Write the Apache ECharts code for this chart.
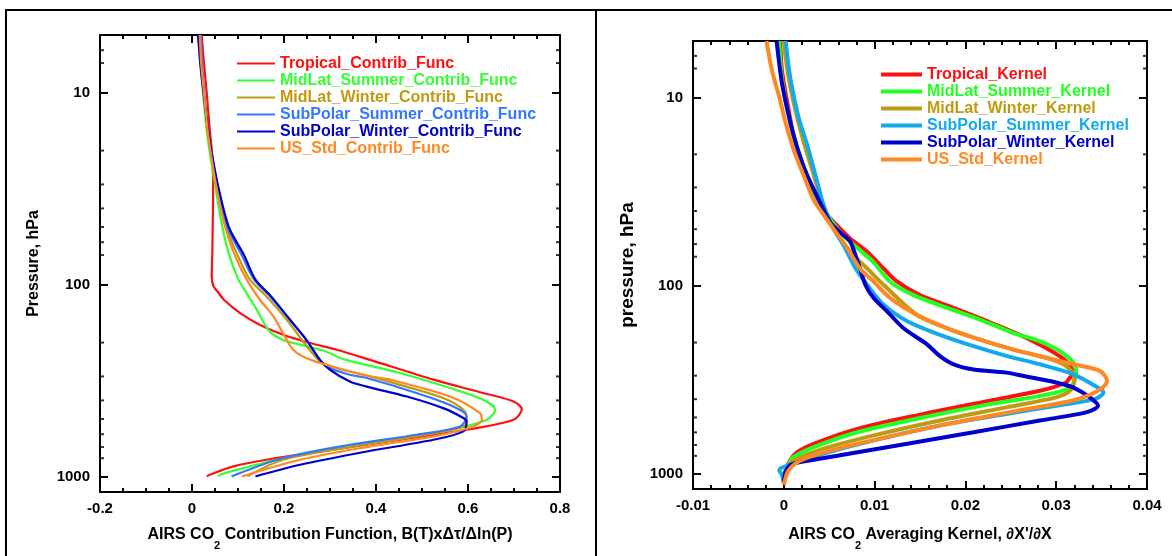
<!DOCTYPE html>
<html><head><meta charset="utf-8">
<script src="https://cdn.jsdelivr.net/npm/echarts@6/dist/echarts.min.js"></script>
<style>html,body{margin:0;padding:0;background:#fff}#c{width:1172px;height:556px}</style>
</head><body><div id="c"></div>
<script>
// ---------- DATA ----------
// pressure axis (hPa) range and minor tick values
const pressureRange = [5, 1200];
const pressureMinorTicks = [6, 7, 20, 30, 40, 50, 60, 70, 200, 300, 400, 500, 600, 700, 800];
const cfRange = [-0.2, 0.8];
const akRange = [-0.01, 0.04];

// Left panel: contribution functions, pairs [value, pressure hPa]
const cfTropical = [[0.021,5],[0.026,7],[0.032,10],[0.038,15],[0.043,20],[0.046,30],[0.045,50],[0.044,70],[0.043,90],[0.046,101],[0.055,108],[0.070,120],[0.104,140],[0.148,162],[0.198,182],[0.257,201],[0.315,218],[0.387,246],[0.525,312],[0.633,366],[0.699,405],[0.717,444],[0.699,505],[0.597,569],[0.452,641],[0.307,723],[0.162,815],[0.090,883],[0.039,975],[0.032,995]];
const cfMidLatSummer = [[0.016,5],[0.019,7],[0.024,10],[0.031,15],[0.038,20],[0.050,30],[0.066,50],[0.081,70],[0.101,94],[0.119,111],[0.141,135],[0.159,162],[0.173,179],[0.198,194],[0.235,205],[0.285,220],[0.335,246],[0.452,288],[0.561,345],[0.633,397],[0.659,448],[0.641,505],[0.561,569],[0.380,667],[0.235,767],[0.126,883],[0.061,975],[0.057,995]];
const cfMidLatWinter = [[0.014,5],[0.018,7],[0.025,10],[0.033,15],[0.041,20],[0.054,30],[0.074,50],[0.099,70],[0.126,94],[0.162,115],[0.206,152],[0.242,198],[0.271,241],[0.285,256],[0.315,272],[0.387,300],[0.452,332],[0.546,389],[0.590,448],[0.597,494],[0.590,547],[0.488,616],[0.343,700],[0.198,815],[0.120,995]];
const cfSubPolarSummer = [[0.019,5],[0.022,7],[0.027,10],[0.034,15],[0.042,20],[0.055,30],[0.077,50],[0.108,70],[0.135,94],[0.170,115],[0.213,152],[0.249,194],[0.278,246],[0.293,267],[0.343,294],[0.380,306],[0.488,366],[0.568,430],[0.597,485],[0.583,547],[0.488,604],[0.343,681],[0.198,798],[0.086,995]];
const cfSubPolarWinter = [[0.013,5],[0.018,7],[0.025,10],[0.034,15],[0.042,20],[0.056,30],[0.080,50],[0.113,70],[0.138,94],[0.172,115],[0.213,152],[0.249,194],[0.278,246],[0.300,277],[0.343,319],[0.380,339],[0.467,382],[0.546,439],[0.590,494],[0.597,515],[0.590,580],[0.525,641],[0.380,738],[0.235,865],[0.138,995]];
const cfUSStd = [[0.017,5],[0.020,7],[0.026,10],[0.033,15],[0.040,20],[0.052,30],[0.072,50],[0.093,70],[0.119,94],[0.148,120],[0.177,146],[0.198,179],[0.220,218],[0.249,241],[0.307,267],[0.387,300],[0.430,312],[0.561,382],[0.626,466],[0.630,505],[0.612,547],[0.525,616],[0.380,700],[0.235,815],[0.109,995]];

// Right panel: averaging kernels, pairs [value, pressure hPa]
const akTropical = [[-0.0004,5],[-0.0002,7.2],[0.0004,10.7],[0.0011,16],[0.0022,24],[0.0035,33],[0.0046,41],[0.0059,48],[0.0073,56],[0.0092,66],[0.0110,81],[0.0125,95],[0.0150,112],[0.0187,131],[0.0224,154],[0.0260,182],[0.0289,214],[0.0311,251],[0.0319,295],[0.0315,307],[0.0311,326],[0.0282,361],[0.0227,407],[0.0154,479],[0.0081,575],[0.0033,690],[0.0015,763],[0.0007,844],[0.0002,953],[0,1120]];
const akMidLatSummer = [[-0.0005,5],[-0.0002,8],[0.0007,13.6],[0.0020,22],[0.0035,33],[0.0048,42],[0.0062,52],[0.0081,63],[0.0099,75],[0.0117,95],[0.0143,112],[0.0180,131],[0.0216,151],[0.0253,178],[0.0282,197],[0.0304,222],[0.0319,256],[0.0322,289],[0.0315,347],[0.0282,384],[0.0227,425],[0.0154,499],[0.0081,599],[0.0033,718],[0.0011,811],[0.0004,915],[0,1120]];
const akMidLatWinter = [[0,5],[0.0004,7.2],[0.0011,10.7],[0.0020,16],[0.0031,24],[0.0042,36],[0.0051,46],[0.0062,56],[0.0077,69],[0.0092,81],[0.0110,99],[0.0147,143],[0.0180,168],[0.0216,193],[0.0253,218],[0.0289,241],[0.0308,261],[0.0319,295],[0.0320,320],[0.0315,361],[0.0300,391],[0.0245,442],[0.0172,519],[0.0099,623],[0.0044,733],[0.0015,828],[0.0004,915],[0,1120]];
const akSubPolarSummer = [[0.0002,5],[0.0007,7.8],[0.0016,12.6],[0.0026,18],[0.0035,26],[0.0044,37.5],[0.0055,50],[0.0066,61],[0.0078,79],[0.0092,99],[0.0110,126],[0.0136,154],[0.0172,182],[0.0209,209],[0.0246,236],[0.0282,261],[0.0319,295],[0.0346,347],[0.0352,368],[0.0342,400],[0.0300,433],[0.0245,479],[0.0172,552],[0.0099,662],[0.0044,779],[0.0011,879],[-0.0005,953],[-0.0002,1012],[0,1120]];
const akSubPolarWinter = [[-0.0008,5],[-0.0005,6.6],[-0.0002,8.4],[0.0004,11.6],[0.0011,16],[0.0020,22],[0.0029,28],[0.0040,36],[0.0051,46],[0.0062,52],[0.0073,58],[0.0079,69],[0.0084,81],[0.0090,99],[0.0099,116],[0.0114,137],[0.0132,168],[0.0158,205],[0.0172,236],[0.0187,261],[0.0209,278],[0.0245,289],[0.0264,301],[0.0300,326],[0.0319,347],[0.0337,391],[0.0346,433],[0.0333,470],[0.0282,519],[0.0209,599],[0.0136,690],[0.0062,794],[0.0018,862],[0.0007,897],[0.0002,972],[0,1098]];
const akUSStd = [[-0.0019,5],[-0.0013,7.2],[-0.0005,9.9],[0.0002,13.6],[0.0011,19],[0.0022,26],[0.0033,35],[0.0044,42],[0.0055,50],[0.0070,63],[0.0084,81],[0.0099,95],[0.0117,116],[0.0147,143],[0.0180,168],[0.0216,193],[0.0253,218],[0.0289,241],[0.0319,261],[0.0348,283],[0.0356,320],[0.0346,361],[0.0319,405],[0.0258,460],[0.0181,541],[0.0106,649],[0.0051,750],[0.0018,850],[0.0005,962],[0,1143]];

const cfNames = ['Tropical_Contrib_Func','MidLat_Summer_Contrib_Func','MidLat_Winter_Contrib_Func','SubPolar_Summer_Contrib_Func','SubPolar_Winter_Contrib_Func','US_Std_Contrib_Func'];
const akNames = ['Tropical_Kernel','MidLat_Summer_Kernel','MidLat_Winter_Kernel','SubPolar_Summer_Kernel','SubPolar_Winter_Kernel','US_Std_Kernel'];
const cfData = [cfTropical, cfMidLatSummer, cfMidLatWinter, cfSubPolarSummer, cfSubPolarWinter, cfUSStd];
const akData = [akTropical, akMidLatSummer, akMidLatWinter, akSubPolarSummer, akSubPolarWinter, akUSStd];
const cfColors = ['#ff1010','#33ff33','#c09a10','#3377ff','#0000cc','#ff8822'];
const akColors = ['#ff1010','#22ff22','#c09a10','#11aaee','#0000cc','#ff8822'];

// ---------- CHART ----------
const FONT = "'Liberation Sans', Arial, Helvetica, sans-serif";
const chart = echarts.init(document.getElementById('c'), null, {renderer: 'canvas'});

const lineCol = '#000';
const gridL = {left: 100, top: 35, width: 460, height: 457};
const gridR = {left: 693, top: 41, width: 454, height: 451};

function xAxes(gridIndex, range, interval, minorSplit, showLabel, pos) {
  return {
    type: 'value', gridIndex, position: pos, min: range[0], max: range[1], interval,
    axisLine: {show: true, onZero: false, lineStyle: {color: lineCol, width: 2}},
    axisTick: {show: true, inside: true, length: 8, lineStyle: {color: lineCol, width: 2}},
    minorTick: {show: true, splitNumber: minorSplit, length: 4, lineStyle: {color: lineCol, width: 2}},
    splitLine: {show: false},
    axisLabel: {show: showLabel, color: '#000', fontFamily: FONT, fontWeight: 'bold', fontSize: 15, margin: 9,
      formatter: v => String(Math.round(v * 1000) / 1000)}
  };
}
function yLog(gridIndex, showLabel, pos) {
  return {
    type: 'log', logBase: 10, gridIndex, position: pos, inverse: true,
    min: pressureRange[0], max: pressureRange[1],
    axisLine: {show: true, onZero: false, lineStyle: {color: lineCol, width: 2}},
    axisTick: {show: true, inside: true, length: 8, lineStyle: {color: lineCol, width: 2}},
    splitLine: {show: false},
    axisLabel: {show: showLabel, showMinLabel: false, showMaxLabel: false, color: '#000', fontFamily: FONT,
      fontWeight: 'bold', fontSize: 15, margin: 10, formatter: v => String(v)}
  };
}

const cfY = Object.assign(yLog(0, true, 'left'), {
  name: 'Pressure, hPa', nameLocation: 'middle', nameRotate: 90, nameGap: 58,
  nameTextStyle: {fontFamily: FONT, fontWeight: 'bold', fontSize: 16, color: '#000'}
});
const akY = Object.assign(yLog(1, true, 'left'), {
  name: 'pressure, hPa', nameLocation: 'middle', nameRotate: 90, nameGap: 56,
  nameTextStyle: {fontFamily: FONT, fontWeight: 'bold', fontSize: 19, color: '#000'}
});
const subRich = {sub: {fontFamily: FONT, fontWeight: 'bold', fontSize: 11, color: '#000', padding: [22, 0, 0, 0]}};
const cfX = Object.assign(xAxes(0, cfRange, 0.2, 4, true, 'bottom'), {
  name: 'AIRS CO{sub|2} Contribution Function, B(T)xΔτ/Δln(P)', nameLocation: 'middle', nameGap: 26,
  nameTextStyle: {fontFamily: FONT, fontWeight: 'bold', fontSize: 16, color: '#000', rich: subRich}
});
const akX = Object.assign(xAxes(1, akRange, 0.01, 5, true, 'bottom'), {
  name: "AIRS CO{sub|2} Averaging Kernel, ∂X'/∂X", nameLocation: 'middle', nameGap: 29,
  nameTextStyle: {fontFamily: FONT, fontWeight: 'bold', fontSize: 16, color: '#000', rich: subRich}
});

const series = [];
cfData.forEach((d, i) => series.push({
  type: 'line', name: cfNames[i], data: d, xAxisIndex: 0, yAxisIndex: 0,
  symbol: 'none', smooth: 0.3, clip: true,
  lineStyle: {color: cfColors[i], width: 2.2}, itemStyle: {color: cfColors[i]}
}));
akData.forEach((d, i) => series.push({
  type: 'line', name: akNames[i], data: d, xAxisIndex: 2, yAxisIndex: 2,
  symbol: 'none', smooth: 0.3, clip: true,
  lineStyle: {color: akColors[i], width: 4}, itemStyle: {color: akColors[i]}
}));

// minor ticks of the log pressure axes: short marks on both frame edges, placed by the axes themselves
function minorTickSeries(xi, yi, edgeValue, dir) {
  return {
    type: 'scatter', xAxisIndex: xi, yAxisIndex: yi, silent: true, clip: false, z: 4,
    data: pressureMinorTicks.map(p => [edgeValue, p]),
    symbol: 'rect', symbolSize: [4, 2], symbolOffset: [2 * dir, 0],
    itemStyle: {color: lineCol}, tooltip: {show: false}, emphasis: {disabled: true}
  };
}
series.push(minorTickSeries(0, 0, cfRange[0], 1));
series.push(minorTickSeries(0, 0, cfRange[1], -1));
series.push(minorTickSeries(2, 2, akRange[0], 1));
series.push(minorTickSeries(2, 2, akRange[1], -1));

const legendText = {fontFamily: FONT, fontWeight: 'bold', fontSize: 16, lineHeight: 17};
const option = {
  animation: false,
  backgroundColor: '#fff',
  grid: [gridL, gridR],
  xAxis: [
    cfX,
    xAxes(0, cfRange, 0.2, 4, false, 'top'),
    akX,
    xAxes(1, akRange, 0.01, 5, false, 'top')
  ],
  yAxis: [
    cfY, yLog(0, false, 'right'),
    akY, yLog(1, false, 'right')
  ],
  legend: [
    {orient: 'vertical', left: 237, top: 55, padding: 0, itemGap: 0, icon: 'rect', itemWidth: 38, itemHeight: 2,
      selectedMode: false, textStyle: legendText,
      data: cfNames.map((n, i) => ({name: n, textStyle: {color: cfColors[i]}}))},
    {orient: 'vertical', left: 881, top: 66, padding: 0, itemGap: 0, icon: 'rect', itemWidth: 41, itemHeight: 4,
      selectedMode: false, textStyle: legendText,
      data: akNames.map((n, i) => ({name: n, textStyle: {color: akColors[i]}}))}
  ],
  graphic: [
    {type: 'line', shape: {x1: 6, y1: 10, x2: 6, y2: 556}, style: {stroke: '#000', lineWidth: 2}},
    {type: 'line', shape: {x1: 5, y1: 10, x2: 1172, y2: 10}, style: {stroke: '#000', lineWidth: 2}},
    {type: 'line', shape: {x1: 596, y1: 10, x2: 596, y2: 556}, style: {stroke: '#000', lineWidth: 2}}
  ],
  series
};
chart.setOption(option);
</script></body></html>
